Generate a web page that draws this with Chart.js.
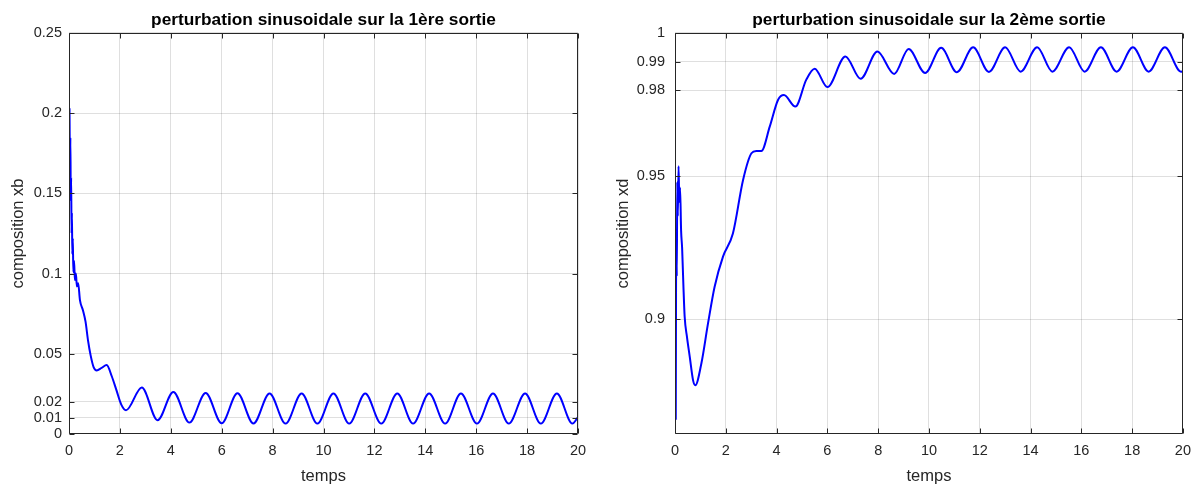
<!DOCTYPE html>
<html>
<head>
<meta charset="utf-8">
<script src="https://cdn.jsdelivr.net/npm/chart.js@4.4.1/dist/chart.umd.min.js"></script>
<style>
  html, body { margin: 0; padding: 0; background: #fff; }
  #wrap { position: relative; width: 1199px; height: 486px; }
  #wrap canvas { position: absolute; top: 0; }
</style>
</head>
<body>
<div id="wrap">
  <canvas id="chartXb" width="600" height="486" style="left:0"></canvas>
  <canvas id="chartXd" width="599" height="486" style="left:600px"></canvas>
</div>
<script>
// composition xb (1st output), read at turning points
const tXb = [0.02, 0.04, 0.055, 0.07, 0.085, 0.1, 0.115, 0.13, 0.15, 0.17, 0.2, 0.23, 0.27, 0.31, 0.36, 0.43,
  0.55, 0.65, 0.75, 0.85, 0.97, 1.09, 1.28, 1.48, 1.68, 1.87, 2.05, 2.24,
  2.86, 3.48, 4.10, 4.73, 5.37, 6.0, 6.62, 7.25, 7.88, 8.51, 9.14, 9.76, 10.39, 11.01, 11.64, 12.27,
  12.9, 13.52, 14.15, 14.78, 15.4, 16.03, 16.66, 17.28, 17.92, 18.54, 19.17, 19.78, 20];
const xb = [0.203, 0.165, 0.185, 0.145, 0.16, 0.125, 0.138, 0.112, 0.122, 0.101, 0.108, 0.096, 0.1, 0.092, 0.094, 0.0835,
  0.077, 0.07, 0.058, 0.049, 0.0415, 0.0396, 0.0412, 0.043, 0.036, 0.027, 0.0185, 0.0148,
  0.029, 0.0086, 0.0262, 0.0071, 0.0256, 0.0067, 0.0254, 0.0066, 0.0253, 0.0065, 0.0253, 0.0065, 0.0253, 0.0065, 0.0253, 0.0065,
  0.0253, 0.0065, 0.0253, 0.0065, 0.0253, 0.0065, 0.0253, 0.0065, 0.0253, 0.0065, 0.0253, 0.0065, 0.0105];

// composition xd (2nd output)
const tXd = [0.03, 0.05, 0.07, 0.09, 0.11, 0.14, 0.17, 0.2, 0.24, 0.28, 0.33, 0.38, 0.47, 0.58, 0.71, 0.8,
  1.04, 1.3, 1.56, 1.89, 2.28, 2.68, 3.01, 3.2, 3.4, 3.73, 4.06, 4.29, 4.74, 5.17, 5.5, 6.0, 6.71, 7.31, 7.97, 8.63,
  9.2, 9.85, 10.48, 11.1, 11.74, 12.36, 13.0, 13.61, 14.26, 14.86, 15.52, 16.13, 16.77, 17.39, 18.03, 18.65, 19.29, 19.92, 20];
const xd = [0.865, 0.93, 0.915, 0.948, 0.936, 0.9535, 0.941, 0.946, 0.931, 0.925, 0.912, 0.901, 0.894, 0.887, 0.8788, 0.877,
  0.8847, 0.8986, 0.9114, 0.9219, 0.93, 0.9487, 0.958, 0.9588, 0.9588, 0.9673, 0.9767, 0.9783, 0.9743, 0.9837, 0.9875, 0.9811, 0.9918, 0.984, 0.9935, 0.9857,
  0.9944, 0.986, 0.9948, 0.9863, 0.995, 0.9864, 0.995, 0.9865, 0.995, 0.9865, 0.995, 0.9865, 0.995, 0.9865, 0.995, 0.9865, 0.995, 0.9865, 0.9866];

const timeTicks = [0, 2, 4, 6, 8, 10, 12, 14, 16, 18, 20];
const xbTicks = [0, 0.01, 0.02, 0.05, 0.1, 0.15, 0.2, 0.25];
const xdTicks = [0.9, 0.95, 0.98, 0.99, 1];

const INK = '#262626';
const GRID = 'rgba(38, 38, 38, 0.15)';
const FONT = '"Liberation Sans", Arial, Helvetica, sans-serif';

// axes box with short inward ticks on every side
const boxTicks = {
  id: 'boxTicks',
  afterDraw(chart) {
    const { ctx, chartArea: a, scales } = chart;
    const len = 5;
    const L = Math.round(a.left) + 0.5, R = Math.round(a.right) - 0.5;
    const T = Math.round(a.top) + 0.5, B = Math.round(a.bottom) - 0.5;
    ctx.save();
    ctx.strokeStyle = INK;
    ctx.lineWidth = 1;
    ctx.beginPath();
    ctx.rect(L, T, R - L, B - T);
    scales.x.ticks.forEach(t => {
      const px = Math.round(scales.x.getPixelForValue(t.value)) + 0.5;
      ctx.moveTo(px, B); ctx.lineTo(px, B - len);
      ctx.moveTo(px, T); ctx.lineTo(px, T + len);
    });
    scales.y.ticks.forEach(t => {
      const py = Math.round(scales.y.getPixelForValue(t.value)) + 0.5;
      ctx.moveTo(L, py); ctx.lineTo(L + len, py);
      ctx.moveTo(R, py); ctx.lineTo(R - len, py);
    });
    ctx.stroke();
    ctx.restore();
  }
};

function points(ts, vs) {
  return ts.map((t, i) => ({ x: t, y: vs[i] }));
}

function makeChart(id, o) {
  const tickFont = { family: FONT, size: 14.5 };
  const labelFont = { family: FONT, size: 16.5 };
  return new Chart(document.getElementById(id), {
    type: 'line',
    data: {
      datasets: [{
        data: points(o.t, o.v),
        borderColor: '#0000ff',
        borderWidth: 2,
        pointRadius: 0,
        fill: false,
        cubicInterpolationMode: 'monotone'
      }]
    },
    options: {
      responsive: false,
      animation: false,
      layout: { padding: { left: 0, right: o.padRight, top: 0, bottom: 0 } },
      plugins: {
        legend: { display: false },
        tooltip: { enabled: false },
        title: {
          display: true,
          text: o.title,
          fullSize: false,
          color: '#000',
          font: { family: FONT, size: 17.3, weight: 'bold' },
          padding: { top: 9.6, bottom: 2.6 }
        }
      },
      scales: {
        x: {
          type: 'linear',
          min: 0,
          max: 20,
          afterBuildTicks: s => { s.ticks = timeTicks.map(v => ({ value: v })); },
          afterFit: s => { s.height = 52; },
          grid: { color: GRID, drawTicks: false },
          border: { display: false },
          ticks: { color: INK, font: tickFont, padding: 8, maxRotation: 0, autoSkip: false },
          title: { display: true, text: 'temps', color: INK, font: labelFont, padding: { top: 0, bottom: 0 } }
        },
        y: {
          type: 'linear',
          min: o.yMin,
          max: o.yMax,
          afterBuildTicks: s => { s.ticks = o.yTicks.map(v => ({ value: v })); },
          afterFit: s => { s.width = o.yWidth; },
          grid: { color: GRID, drawTicks: false },
          border: { display: false },
          ticks: { color: INK, font: tickFont, padding: o.tickPad, autoSkip: false, callback: v => String(v) },
          title: { display: true, text: o.yLabel, color: INK, font: labelFont, padding: { top: o.titlePad, bottom: 0 } }
        }
      }
    },
    plugins: [boxTicks]
  });
}

makeChart('chartXb', {
  t: tXb, v: xb,
  title: 'perturbation sinusoidale sur la 1ère sortie',
  yLabel: 'composition xb',
  yMin: 0, yMax: 0.25, yTicks: xbTicks,
  yWidth: 69, padRight: 22, tickPad: 7, titlePad: 9
});

makeChart('chartXd', {
  t: tXd, v: xd,
  title: 'perturbation sinusoidale sur la 2ème sortie',
  yLabel: 'composition xd',
  yMin: 0.86, yMax: 1, yTicks: xdTicks,
  yWidth: 75, padRight: 16, tickPad: 10, titlePad: 14
});
</script>
</body>
</html>
